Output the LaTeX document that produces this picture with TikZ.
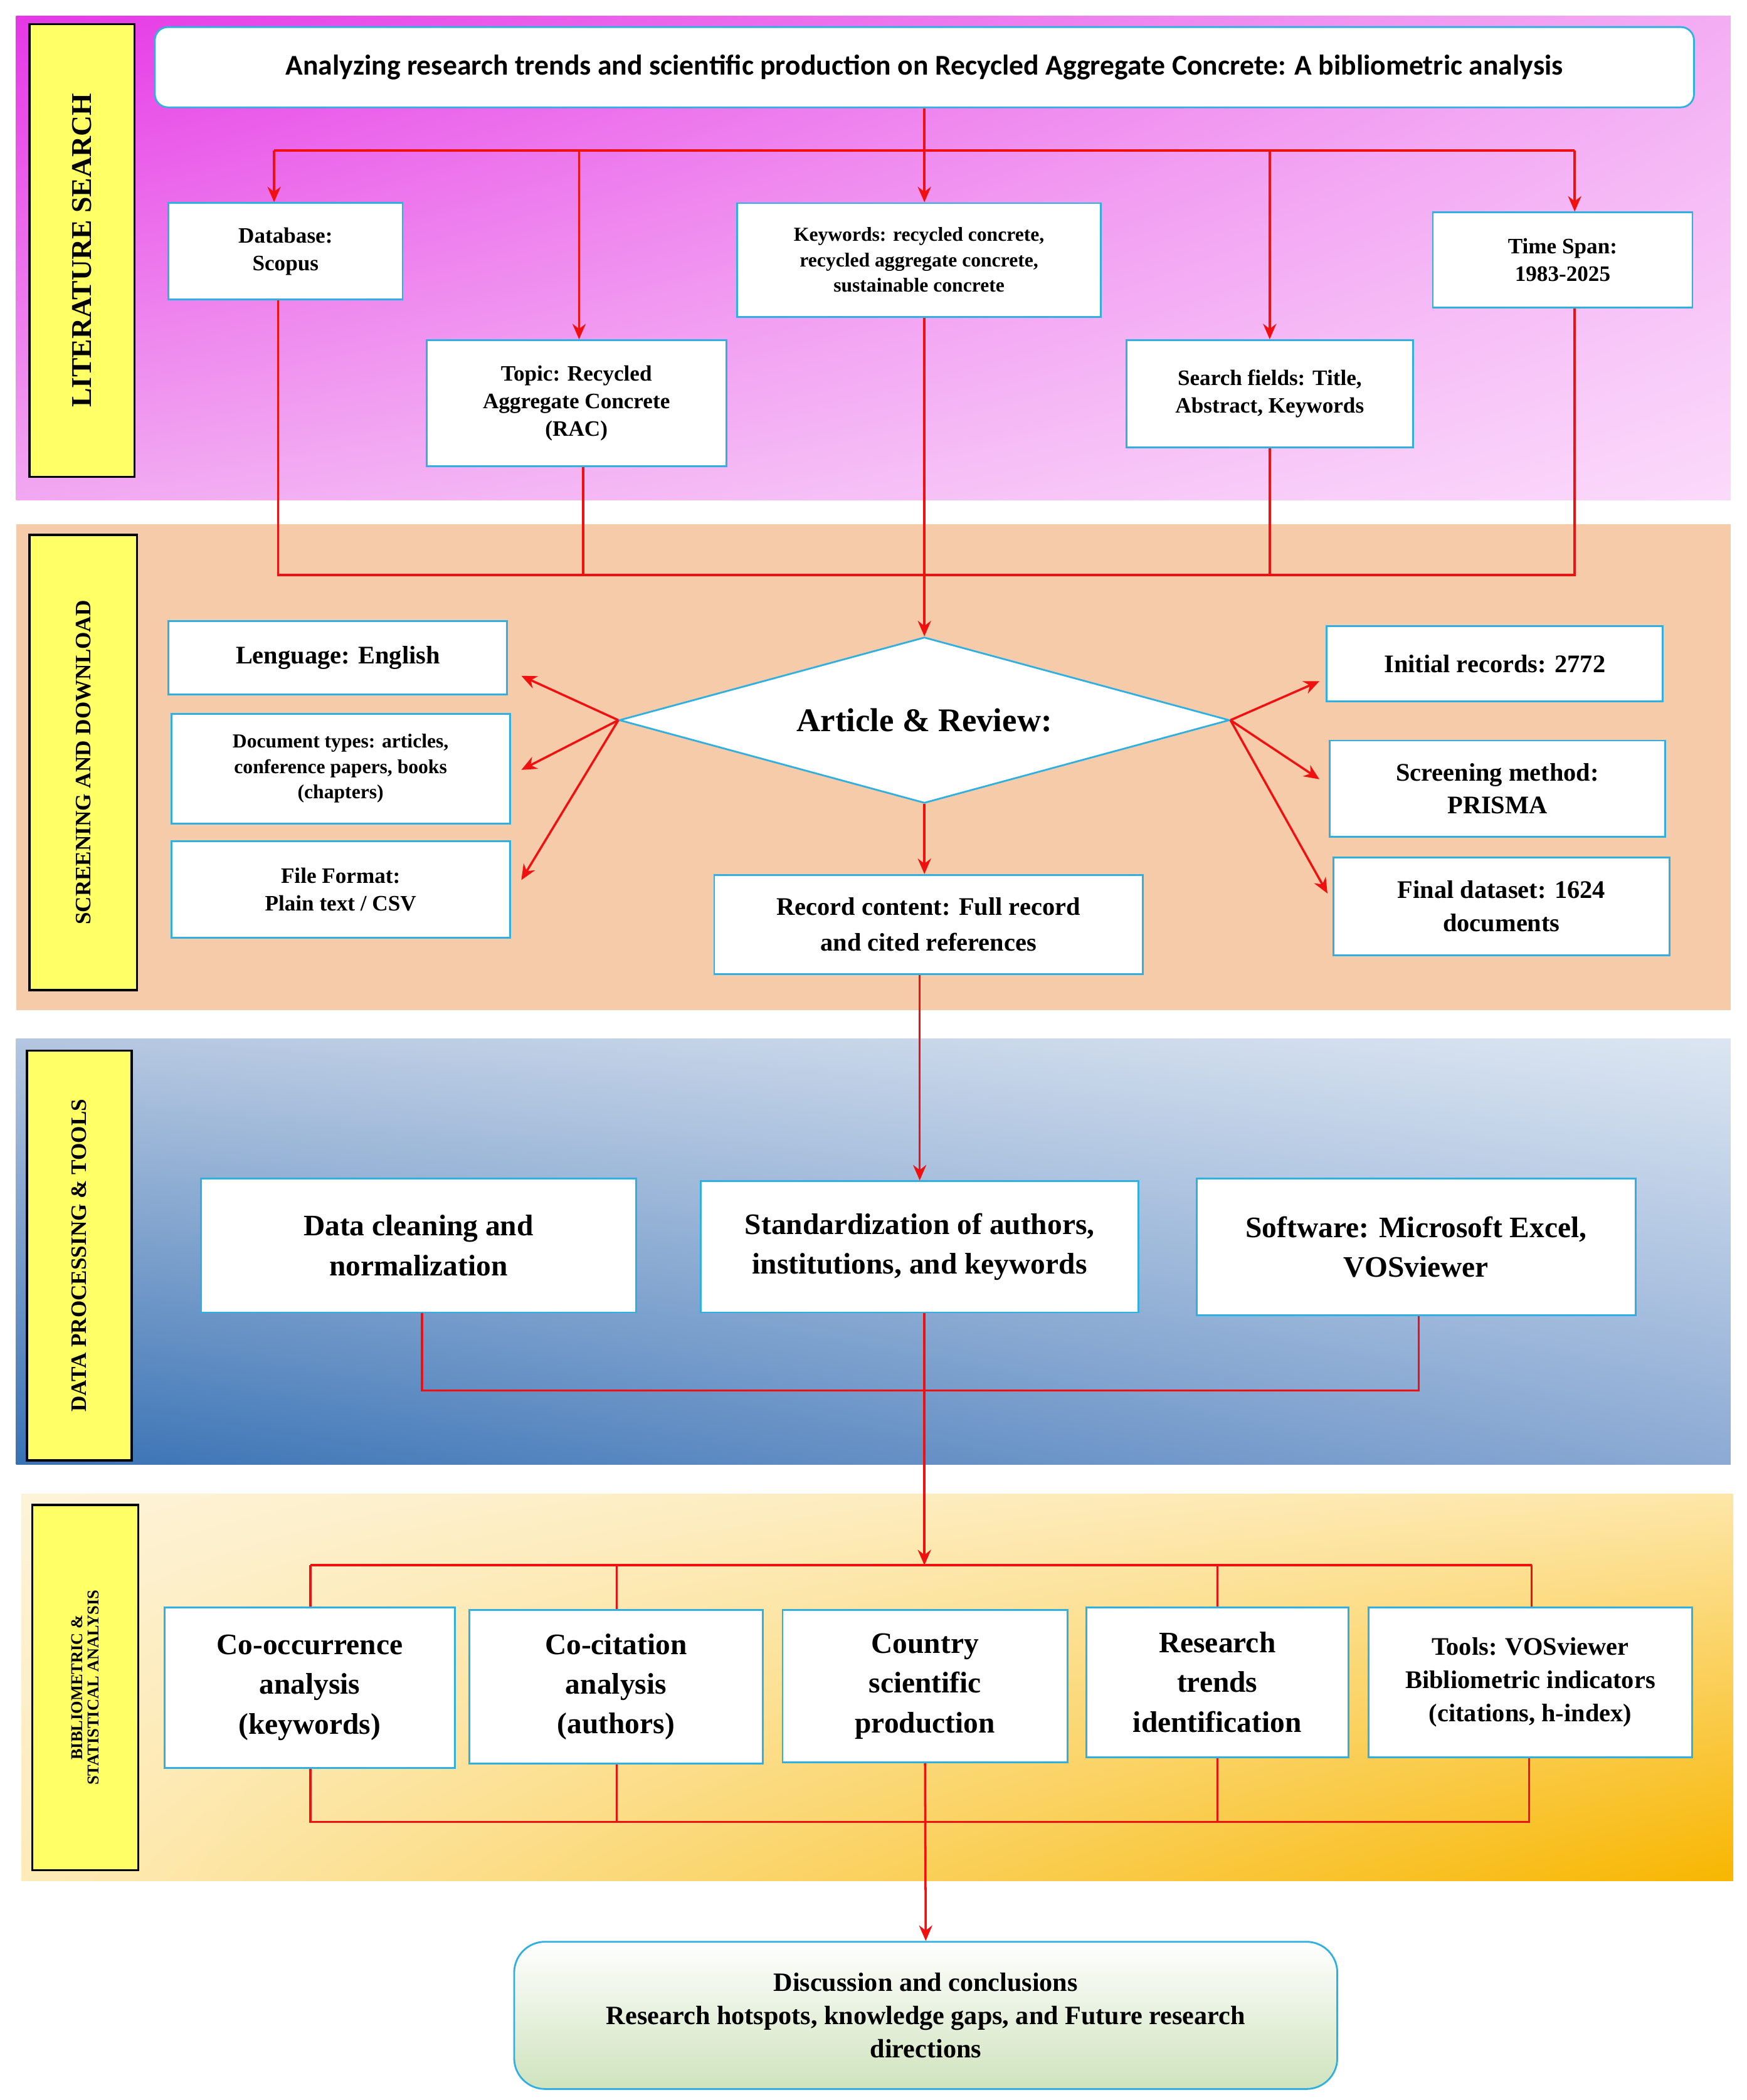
\documentclass[tikz,border=0pt]{standalone}
\usepackage{fontspec}
\setmainfont{Liberation Serif}
\newfontfamily\titlefont{Carlito}
\usetikzlibrary{shapes.geometric,arrows.meta,shadings}
\definecolor{arr}{HTML}{F01010}
\definecolor{edge}{HTML}{30B0E0}
\definecolor{tag}{HTML}{FFFF66}
\definecolor{litA}{HTML}{E637E6}\definecolor{litB}{HTML}{F3AEF3}\definecolor{litC}{HTML}{F1A8F1}\definecolor{litD}{HTML}{FBDAFB}
\definecolor{scrA}{HTML}{F5CBAA}
\definecolor{datA}{HTML}{B4C6E0}\definecolor{datB}{HTML}{DCE6F2}\definecolor{datC}{HTML}{3872B4}\definecolor{datD}{HTML}{8CAAD4}
\definecolor{bibA}{HTML}{FDF3D8}\definecolor{bibB}{HTML}{FDE6A8}\definecolor{bibC}{HTML}{FDEBB8}\definecolor{bibD}{HTML}{F8B600}
\definecolor{disc}{HTML}{CFE3BD}
\tikzset{
  box/.style={draw=edge,fill=white,line width=0.8pt,align=center,font=\bfseries\fontsize{10}{12.5}\selectfont,inner sep=2pt},
  tagbox/.style={draw=black,fill=tag,line width=1pt,font=\bfseries},
  link/.style={draw=arr,line width=1pt},
  go/.style={link,-{Stealth[length=7pt,width=6pt]}}
}
% box from (x1,y1) to (x2,y2) in reference pixels
\newcommand\bx[7][]{%
  \node[box,#1,minimum width={(#5-#3)*0.6072pt},minimum height={(#6-#4)*0.6072pt}] (#2) at ({(#3+#5)/2},{(#4+#6)/2}) {#7};}
\begin{document}
\begin{tikzpicture}[x=0.02142cm,y=-0.02142cm]
  \useasboundingbox (0,0) rectangle (1300,1563);
  % bands
  \shade[upper left=litA,upper right=litB,lower left=litC,lower right=litD]
    (12,12) rectangle (1288,372);
  \fill[scrA] (12,390) rectangle (1288,752);
  \shade[upper left=datA,upper right=datB,lower left=datC,lower right=datD]
    (12,773) rectangle (1288,1090);
  \shade[upper left=bibA,upper right=bibB,lower left=bibC,lower right=bibD]
    (16,1112) rectangle (1290,1400);
  \foreach \xa/\ya/\xb/\yb/\name/\txt/\fs in {
     22/18/100/355/t1/LITERATURE SEARCH/13,
     22/398/102/737/t2/SCREENING AND DOWNLOAD/10,
     20/782/98/1087/t3/DATA PROCESSING \& TOOLS/10,
     24/1120/103/1392/t4/{BIBLIOMETRIC \&\\STATISTICAL ANALYSIS}/7.5} {
   \fill[tagbox] (\xa,\ya) rectangle (\xb,\yb);
   \node[rotate=90,align=center,font=\bfseries\fontsize{\fs}{\fs}\selectfont] (\name) at ({(\xa+\xb)/2},{(\ya+\yb)/2}) {\txt};
  }

  % literature search
  \node[box,rounded corners=6pt,font=\titlefont\bfseries\fontsize{13}{15}\selectfont,
    minimum width={1150*0.6072pt},minimum height={60*0.6072pt}] (title) at (688,50)
    {Analyzing research trends and scientific production on Recycled Aggregate Concrete: A bibliometric analysis};
  \bx{db}{125}{151}{300}{223}{Database:\\Scopus}
  \bx{topic}{317}{253}{541}{347}{Topic: Recycled\\Aggregate Concrete\\(RAC)}
  \bx[font=\bfseries\fontsize{9}{11.5}\selectfont]{kw}{548}{151}{820}{236}{Keywords: recycled concrete,\\recycled aggregate concrete,\\sustainable concrete}
  \bx{fields}{838}{253}{1052}{333}{Search fields: Title,\\Abstract, Keywords}
  \bx{span}{1066}{158}{1260}{229}{Time Span:\\1983-2025}
  \coordinate (split) at (688,112);
  \draw[link] (title.south) -- (split);
  \draw[link] (204,112) -- (1172,112);
  \draw[go] (split) -- (kw.north -| split);
  \foreach \x/\n in {204/db,431/topic,945/fields,1172/span}
   \draw[go] (\x,112) -- (\x,0 |- \n.north);
  \draw[link] (207,0 |- db.south) -- (207,428) -- (1172,428) -- (1172,0 |- span.south);
  \draw[link] (434,0 |- topic.south) -- (434,428);
  \draw[link] (945,0 |- fields.south) -- (945,428);

  % screening
  \node[diamond,draw=edge,fill=white,line width=0.8pt,aspect=3.7,minimum width={456*0.6072pt},minimum height={124*0.6072pt},
    inner sep=0pt,font=\bfseries\fontsize{15}{17}\selectfont] (ar) at (688,536) {Article \& Review:};
  \draw[go] (kw.south -| split) -- (ar.north);
  \bx[font=\bfseries\fontsize{11.5}{13}\selectfont]{lang}{125}{462}{378}{517}{Lenguage: English}
  \bx[font=\bfseries\fontsize{9}{11.5}\selectfont]{doc}{127}{531}{380}{613}{Document types: articles,\\conference papers, books\\(chapters)}
  \bx{fmt}{127}{626}{380}{698}{File Format:\\Plain text / CSV}
  \bx[font=\bfseries\fontsize{11.5}{13}\selectfont]{init}{987}{466}{1238}{522}{Initial records: 2772}
  \bx[font=\bfseries\fontsize{11.5}{15}\selectfont]{scr}{989}{551}{1240}{623}{Screening method:\\PRISMA}
  \bx[font=\bfseries\fontsize{11.5}{15}\selectfont]{final}{992}{638}{1243}{711}{Final dataset: 1624\\documents}
  \bx[font=\bfseries\fontsize{11.5}{16}\selectfont]{rec}{531}{651}{851}{725}{Record content: Full record\\and cited references}
  \foreach \y in {503,573,655} \draw[go] (ar.west) -- (388,\y);
  \foreach \x/\y in {982/507,982/580,988/665} \draw[go] (ar.east) -- (\x,\y);
  \draw[go] (ar.south) -- (ar.south |- rec.north);

  % data processing
  \bx[font=\bfseries\fontsize{13.5}{18}\selectfont]{clean}{149}{877}{474}{977}{Data cleaning and\\normalization}
  \bx[font=\bfseries\fontsize{13.5}{18}\selectfont]{std}{521}{879}{848}{977}{Standardization of authors,\\institutions, and keywords}
  \bx[font=\bfseries\fontsize{13.5}{18}\selectfont]{soft}{890}{877}{1218}{979}{Software: Microsoft Excel,\\VOSviewer}
  \draw[go] (rec.south -| std.north) -- (std.north);
  \draw[link] (314,0 |- clean.south) -- (314,1035) -- (1056,1035) -- (1056,0 |- soft.south);

  % bibliometric analysis
  \bx[font=\bfseries\fontsize{13.5}{18}\selectfont]{cooc}{122}{1196}{339}{1316}{Co-occurrence\\analysis\\(keywords)}
  \bx[font=\bfseries\fontsize{13.5}{18}\selectfont]{cocit}{349}{1198}{568}{1313}{Co-citation\\analysis\\(authors)}
  \bx[font=\bfseries\fontsize{13.5}{18}\selectfont]{country}{582}{1198}{795}{1312}{Country\\scientific\\production}
  \bx[font=\bfseries\fontsize{13.5}{18}\selectfont]{trend}{808}{1196}{1004}{1308}{Research\\trends\\identification}
  \bx[font=\bfseries\fontsize{11.5}{15}\selectfont]{tools}{1018}{1196}{1260}{1308}{Tools: VOSviewer\\Bibliometric indicators\\(citations, h-index)}
  \coordinate (join) at (688,1165);
  \draw[go] (std.south -| join) -- (join);
  \draw[link] (231,1165) -- (1140,1165);
  \foreach \x/\n in {231/cooc,459/cocit,906/trend,1140/tools}
   \draw[link] (\x,1165) -- (\x,0 |- \n.north);
  \draw[link] (231,0 |- cooc.south) -- (231,1356) -- (1138,1356) -- (1138,0 |- tools.south);
  \draw[link] (459,0 |- cocit.south) -- (459,1356);
  \draw[link] (906,0 |- trend.south) -- (906,1356);

  % conclusions
  \node[box,rounded corners=14pt,top color=white,bottom color=disc,font=\bfseries\fontsize{12}{15}\selectfont,
    minimum width={615*0.6072pt},minimum height={110*0.6072pt}] (disc) at (689,1500)
    {Discussion and conclusions\\Research hotspots, knowledge gaps, and Future research\\directions};
  \draw[go] (country.south) -- (disc.north);
\end{tikzpicture}
\end{document}
